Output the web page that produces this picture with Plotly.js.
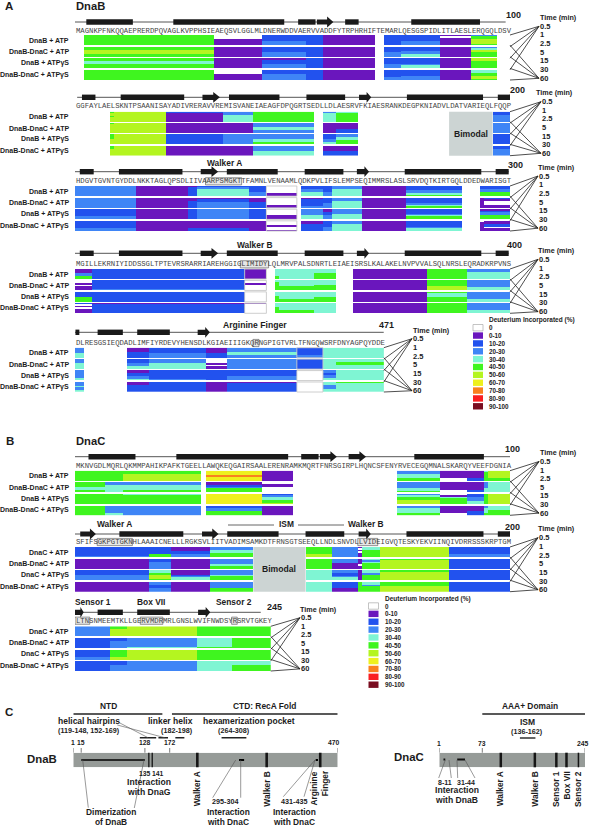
<!DOCTYPE html>
<html><head><meta charset="utf-8">
<script src="https://cdn.plot.ly/plotly-3.0.1.min.js"></script>
<style>html,body{margin:0;padding:0;background:#fff}#c{width:590px;height:827px}</style>
</head><body><div id="c"></div>
<script>
// ---------- data ----------
const timeLabels = ["0.5","1","2.5","5","15","30","60"];
const condA = ["DnaB + ATP","DnaB-DnaC + ATP","DnaB + ATPγS","DnaB-DnaC + ATPγS"];
const condB = ["DnaC + ATP","DnaB-DnaC + ATP","DnaC + ATPγS","DnaB-DnaC + ATPγS"];
const legendLabels = ["0","0-10","10-20","20-30","30-40","40-50","50-60","60-70","70-80","80-90","90-100"];
const legendColors = ["#ffffff","#6a16bd","#2252ee","#3f85f6","#7ff5d3","#3ff51f","#b4f520","#eef01e","#f9801f","#f91f22","#7a0d20"];

const seqA1 = "MAGNKPFNKQQAEPRERDPQVAGLKVPPHSIEAEQSVLGGLMLDNERWDDVAERVVADDFYTRPHRHIFTEMARLQESGSPIDLITLAESLERQGQLDSV";
const seqA2 = "GGFAYLAELSKNTPSAANISAYADIVRERAVVREMISVANEIAEAGFDPQGRTSEDLLDLAESRVFKIAESRANKDEGPKNIADVLDATVARIEQLFQQP";
const seqA3 = "HDGVTGVNTGYDDLNKKTAGLQPSDLIIVAARPSMGKTTFAMNLVENAAMLQDKPVLIFSLEMPSEQIMMRSLASLSRVDQTKIRTGQLDDEDWARISGT";
const seqA4 = "MGILLEKRNIYIDDSSGLTPTEVRSRARRIAREHGGIGLIMIDYLQLMRVPALSDNRTLEIAEISRSLKALAKELNVPVVALSQLNRSLEQRADKRPVNS";
const seqA5 = "DLRESGSIEQDADLIMFIYRDEVYHENSDLKGIAEIIIGKQRNGPIGTVRLTFNGQWSRFDNYAGPQYDDE";
const seqB1 = "MKNVGDLMQRLQKMMPAHIKPAFKTGEELLAWQKEQGAIRSAALERENRAMKMQRTFNRSGIRPLHQNCSFENYRVECEGQMNALSKARQYVEEFDGNIA";
const seqB2 = "SFIFSGKPGTGKNHLAAAICNELLLRGKSVLIITVADIMSAMKDTFRNSGTSEEQLLNDLSNVDLLVIDEIGVQTESKYEKVIINQIVDRRSSSKRPTGM";
const seqB3 = "LTNSNMEEMTKLLGERVMDRMRLGNSLWVIFNWDSYRSRVTGKEY";

// residue ranges (within each 100-residue line) and one 7-time-point bin code per condition
// bin codes: 0 = 0%, 1 = 0-10, 2 = 10-20, 3 = 20-30, 4 = 30-40, 5 = 40-50, 6 = 50-60, 7 = 60-70, 8 = 70-80
const segsA1 = [[2,32],[32,43],[43,53],[53,57],[57,69],[71,75],[75,84],[84,91],[91,97]];
const rowsA1 = [
 ["5555555","0001111","2222333","2222222","1111111","2222222","2222333","1011111","3556665"],
 ["5566655","1111111","2222333","2222222","1111111","2222333","2223344","1111111","3466555"],
 ["5544555","1111111","1222333","2222222","1111111","2222333","2222344","1111111","6655555"],
 ["5555555","0001111","2223333","2222222","1111111","2222233","2222333","1111111","4455665"]];
const segsA2 = [[8,9],[9,21],[21,34],[34,41],[41,55],[57,60],[60,65],[96,100]];
const rowsA2 = [
 ["5665666","6666666","2111111","3344444","5555555","3444444","4555555","2233333"],
 ["5666666","6666666","1111111","1111111","3334433","1111111","1111222","3333333"],
 ["5556666","6666666","2222222","3333333","3334455","2223344","3344555","2222222"],
 ["5566666","6666666","1111111","1111111","3333444","1111222","1111222","2233333"]];
const segsA3 = [[0,14],[14,26],[26,28],[28,40],[40,44],[44,51],[52,57],[57,59],[59,66],[66,76],[76,89],[93,94],[94,100]];
const rowsA3 = [
 ["3333333","1111111","1222222","2344444","2222333","0000011","2233444","2222333","3344444","1111111","2223345","2233555","2233555"],
 ["3333333","1111111","1122222","1223333","1112222","0000011","1222223","2222333","3344444","1111111","2222345","1111111","2100011"],
 ["2222233","1111111","2222222","3333333","2222222","0000111","3333444","1122333","3334444","1111111","2223455","1233555","1233555"],
 ["2222233","1111111","1111122","1111122","1111111","0001001","1122222","2222333","3344444","1111111","2222344","0111111","1122011"]];
const segsA4 = [[0,4],[4,39],[39,44],[46,47],[47,55],[55,60],[64,81],[81,90],[90,100]];
const rowsA4 = [
 ["1113355","2222222","1111111","4444455","4444444","4445555","1111111","5555555","3344444"],
 ["0010111","2222223","0010000","4555555","4444555","4445555","1111111","5555666","3333344"],
 ["2222555","2222222","0000000","4445555","4444455","4444555","1111111","5444555","3333344"],
 ["2010111","1222222","1000000","4445555","4444455","4444444","1111111","5555555","3333344"]];
const segsA5 = [[0,2],[12,17],[17,30],[30,35],[35,51],[51,57],[57,60],[60,71]];
const rowsA5 = [
 ["3333444","1112222","2222333","1111222","3334433","2222233","4444444","4444444"],
 ["3334444","2223344","3334444","0001011","3333333","2222222","4444444","4455444"],
 ["3333344","1122334","2222223","2222222","2222333","0000000","3323344","4444444"],
 ["3334334","1122222","2222222","1111111","1222222","0000000","4433344","5444444"]];
const segsB1 = [[0,7],[7,11],[11,29],[30,43],[43,50],[74,84],[84,90],[90,94],[94,95],[95,100]];
const rowsB1 = [
 ["5555555","5555555","5566666","7778777","1111111","3344455","1111100","1111122","4555555","6666655"],
 ["5554455","3344444","3344455","1123555","0110000","3333445","1111100","1111122","3333444","4444444"],
 ["5555555","5555555","4555555","7777777","2344556","3455666","0145555","2233344","5555555","6666666"],
 ["5555555","3333344","3333333","2233555","1111111","3344455","1111100","1111222","3344455","4445555"]];
const segsB2 = [[0,17],[17,22],[22,31],[31,41],[53,59],[59,65],[65,66],[66,70],[70,86],[86,100]];
const rowsB2 = [
 ["2222223","2222255","1112233","3344555","5555566","3333333","1010111","4455555","6666666","2222233"],
 ["1111111","2233333","1111111","3333455","5555555","3331111","1111011","4345555","5666666","2222222"],
 ["2223333","4456665","1112344","3334555","4444444","3322344","1111111","4435555","5666666","2222222"],
 ["1111111","3322333","1111111","3333555","4444444","2222111","5555555","4435555","5556666","2222222"]];
const segsB3 = [[0,8],[8,12],[12,28],[28,36],[36,45]];
const rowsB3 = [
 ["3333333","5566666","6666666","5555555","5555555"],
 ["2222222","2233333","3333334","4444445","5555555"],
 ["2222233","5555566","6666666","5555555","5555555"],
 ["2222222","2223333","3333333","4444444","4445555"]];

// secondary structure, in residues along each line
const helixA1=[[2.6,13.3],[22.6,48.1],[51.3,55.3],[62.1,65.2],[77.3,93.1]], strandA1=[[55.6,59.4]];
const helixA2=[[1.6,4.7],[10.5,25.1],[35.4,47],[53.2,62.1],[76.3,93.8],[97.2,100.2]], strandA2=[[29.3,33.3],[65.3,68.1]];
const helixA3=[[1.1,4.3],[10.1,24.7],[34.9,46.6],[52.8,61.7],[75.8,93.4],[96.7,99.7]], strandA3=[[28.9,32.9],[64.8,67.6]];
const helixA4=[[1.1,4.3],[10.1,24.7],[34.9,46.6],[52.8,61.7],[75.8,93.4],[96.7,99.7]], strandA4=[[28.9,32.9],[64.8,67.6]];
const helixA5=[[0.1,1],[5.2,11],[14.3,21.8]], strandA5=[[28.2,31]];
const helixB1=[[3.1,13.9],[23.3,49],[52,56],[78,94]], strandB1=[[56.3,60.2],[62.9,66.9]];
const helixB2=[[10.2,24.9],[35,46.8],[53,61.9],[76.2,93.9],[97.2,100.2]], strandB2=[[1.2,4.8],[29.2,33],[65.2,68]];
const helixB3=[[5.2,11],[14.3,21.8]], strandB3=[[0,2],[28.3,31.1]];

// domain map residues
const dnabLength = 470, dnacLength = 245;
const dnabMotifs = [221,344,439], dnabDnaG = [135,141], dnacMotifs = [104,161,197,214,234];
const dnabTicks = [1,15,128,172,470], dnacTicks = [1,73,245];
const dnabDomains = [[1,159],[176,470]], dnacDomains = [[73,245]];
const dnabPockets = [[119,148],[152,169],[182,198],[264,308]], dnacPockets = [[136,162]];
const dnabSites = [[15,128],[295,304],[431,435]], dnacSites = [[8,11],[31,44]];

// ---------- page geometry ----------
const W=590,H=827, unit=4.35, seqLeft=75;
const panels = [
 {seq:seqA1,segs:segsA1,rows:rowsA1,hel:helixA1,str:strandA1,cond:condA,n:100,top:35,bot:80,track:22,seqY:31,tx:539,ty:26.3,st:8.67,title:[558,17.7],num:["100",513,15],line:[-0.3,99],
  boxes:[],out:[],bim:null},
 {seq:seqA2,segs:segsA2,rows:rowsA2,hel:helixA2,str:strandA2,cond:condA,n:100,top:111.7,bot:155.7,track:97.3,seqY:106,tx:541,ty:101.7,st:8.6,title:[554,92.7],num:["200",517,90],line:[0.5,100.2],
  boxes:[],out:[],bim:[86,96]},
 {seq:seqA3,segs:segsA3,rows:rowsA3,hel:helixA3,str:strandA3,cond:condA,n:100,top:186,bot:231,track:171.7,seqY:181.3,tx:538,ty:176,st:8.7,title:[556,167.3],num:["300",515,164.7],line:[0,99.7],
  boxes:[[30,38.3]],out:[[44,51]],bim:null},
 {seq:seqA4,segs:segsA4,rows:rowsA4,hel:helixA4,str:strandA4,cond:condA,n:100,top:269,bot:313.3,track:253.3,seqY:264.3,tx:538,ty:259.3,st:8.73,title:[556,250.7],num:["400",514,245],line:[0,99.7],
  boxes:[[38,44.5]],out:[[39,44]],bim:null},
 {seq:seqA5,segs:segsA5,rows:rowsA5,hel:helixA5,str:strandA5,cond:condA,n:71,top:347.7,bot:392,track:332.3,seqY:343,tx:412,ty:338.7,st:8.67,title:[431,330],num:["471",386,325],line:[0,71],
  boxes:[[40.9,42.3]],out:[[51,57]],bim:null},
 {seq:seqB1,segs:segsB1,rows:rowsB1,hel:helixB1,str:strandB1,cond:condA,n:100,top:470.7,bot:515.3,track:456.7,seqY:466.3,tx:539,ty:461.5,st:8.6,title:[558,452.7],num:["100",512,449.3],line:[0,100],
  boxes:[],out:[],bim:null},
 {seq:seqB2,segs:segsB2,rows:rowsB2,hel:helixB2,str:strandB2,cond:condB,n:100,top:547,bot:591.7,track:534,seqY:542,tx:538,ty:537.7,st:8.67,title:[556,528.7],num:["200",512,526.7],line:[-0.2,100.2],
  boxes:[[5.1,13.2],[65,69.6]],out:[],bim:[41,53]},
 {seq:seqB3,segs:segsB3,rows:rowsB3,hel:helixB3,str:strandB3,cond:condB,n:45,top:626.3,bot:671,track:612.3,seqY:620.7,tx:300,ty:617.7,st:8.53,title:[318,609.3],num:["245",274,606.7],line:[0,42.7],
  boxes:[[0,3.4],[15,20.2],[36,37.3]],out:[],bim:null}
];

const px = x => x/W, py = y => 1-y/H;
const traces=[], shapes=[], annos=[], layout={};
const TXT="#1c1c1c";
function label(t,x,y,size,anchor,opt){
  opt=opt||{};
  annos.push(Object.assign({text:opt.plain?t:"<b>"+t+"</b>",x:px(x),y:py(y),xref:"paper",yref:"paper",showarrow:false,
    xanchor:anchor||"center",yanchor:"middle",borderpad:0,
    font:{family:opt.family||"Liberation Sans",size:size,color:opt.color||TXT}},opt.angle?{textangle:opt.angle}:{}));
}
function seg(x1,y1,x2,y2,color,w,xref){
  shapes.push({type:"line",xref:xref||"paper",yref:"paper",x0:xref?x1:px(x1),x1:xref?x2:px(x2),y0:py(y1),y1:py(y2),
    line:{color:color,width:w}});
}
function box(x1,y1,x2,y2,fill,lineColor,lw,xref){
  shapes.push({type:"rect",xref:xref||"paper",yref:"paper",x0:xref?x1:px(x1),x1:xref?x2:px(x2),y0:py(y1),y1:py(y2),
    fillcolor:fill,line:{color:lineColor||fill,width:lw||0}});
}

const steps=[];
legendColors.forEach((c,i)=>{steps.push([i/11,c]);steps.push([(i+1)/11,c]);});

panels.forEach((p,k)=>{
  const id=k+1, ax=id===1?"":String(id);
  const left=seqLeft, right=seqLeft+p.n*unit;
  layout["xaxis"+ax]={domain:[px(left),px(right)],range:[0,p.n],visible:false,anchor:"y"+ax,fixedrange:true};
  layout["yaxis"+ax]={domain:[py(p.bot),py(p.top)],range:[30.5,-0.5],visible:false,anchor:"x"+ax,fixedrange:true};
  const xr="x"+ax;
  // heat map
  const z=[];
  for(let r=0;r<31;r++) z.push(new Array(p.n).fill(null));
  p.rows.forEach((row,c)=>{
    row.forEach((codes,s)=>{
      const a=p.segs[s][0],b=p.segs[s][1];
      for(let t=0;t<7;t++) for(let i=a;i<b;i++) z[c*8+t][i]=parseInt(codes[t],16);
    });
  });
  traces.push({type:"heatmap",z:z,x0:0.5,dx:1,y0:0,dy:1,xaxis:xr,yaxis:"y"+ax,zmin:0,zmax:11,
    colorscale:steps,showscale:false,hoverinfo:"skip",xgap:0,ygap:0});
  // grey outline of undeuterated blocks
  p.out.forEach(o=>{
    for(let c=0;c<4;c++){
      const h=(p.bot-p.top)/31;
      box(o[0],p.top+c*8*h,o[1],p.top+(c*8+7)*h,"rgba(0,0,0,0)","#c8c8c8",0.9,xr);
    }
  });
  // bimodal block
  if(p.bim){
    box(p.bim[0],p.top,p.bim[1],p.bot,"#ccd4d3",null,0,xr);
    label("Bimodal",left+(p.bim[0]+p.bim[1])/2*unit,(p.top+p.bot)/2,8.6);
  }
  // secondary structure
  seg(p.line[0],p.track,p.line[1],p.track,"#555",1,xr);
  p.hel.forEach(h=>box(h[0],p.track-2.7,h[1],p.track+2.7,"#1a1a1a",null,0,xr));
  p.str.forEach(s=>{
    const neck=s[1]-(s[1]-s[0])*0.38;
    const u=py(p.track-2.6),d=py(p.track+2.6),U=py(p.track-5.4),D=py(p.track+5.4),m=py(p.track);
    shapes.push({type:"path",xref:xr,yref:"paper",fillcolor:"#1a1a1a",line:{width:0},
      path:`M${s[0]},${u} L${neck},${u} L${neck},${U} L${s[1]},${m} L${neck},${D} L${neck},${d} L${s[0]},${d} Z`});
  });
  // sequence
  label(p.seq,left,p.seqY,7.25,"left",{plain:true,family:"Liberation Mono",color:"#444"});
  p.boxes.forEach(b=>box(b[0],p.seqY-3.6,b[1],p.seqY+3.6,"rgba(120,120,120,0.18)","#555",0.6,xr));
  // condition labels
  p.cond.forEach((c,i)=>label(c,70,p.top+(p.bot-p.top)*(i*8+3.5)/31,7,"right"));
  // time labels and fan
  label("Time (min)",p.title[0],p.title[1],7.2);
  timeLabels.forEach((t,i)=>label(t,p.tx,p.ty+i*p.st,7.5,"left"));
  const h=(p.bot-p.top)/31, yA=p.ty, yB=p.ty+6*p.st;
  for(let c=0;c<4;c++){
    seg(right,p.top+c*8*h,p.tx,yA,"#222",0.8);
    seg(right,p.top+(c*8+7)*h,p.tx,yB,"#222",0.8);
  }
  label(p.num[0],p.num[1],p.num[2],9,"center");
});

// panel headers and motif names
label("A",9,5.5,11.5); label("DnaB",90,5.5,11.2);
label("B",10,441,11.5); label("DnaC",90,441,11.2);
label("Walker A",224,162.7,8.4); label("Walker B",255,245.3,8.4); label("Arginine Finger",255,324.7,8.6);
label("Walker A",114.7,524,8.4); label("Walker B",366,524,8.4); label("ISM",286,524,8.4);
seg(228,525,274,525,"#555",0.9); seg(298,525,344,525,"#555",0.9);
label("Sensor 1",92.5,602,8.4); label("Box VII",151,602,8.4); label("Sensor 2",234,602,8.4);

// legends
function legend(tx,ty,sx,sy,step){
  label("Deuterium Incorporated (%)",tx,ty,6.5,"left");
  legendLabels.forEach((l,i)=>{
    box(sx,sy+i*step-3.2,sx+10,sy+i*step+3.2,legendColors[i],i===0?"#aaa":legendColors[i],i===0?0.7:0);
    label(l,tx,sy+i*step,6.3,"left");
  });
}
legend(488,320,473,327.7,7.86);
legend(384,598.7,368.5,606,7.87);

// ---------- panel C ----------
const mapTop=752.7, mapBot=767.3;
const xb=[73.3,337.7], xc=[439.3,585];
layout.xaxis9={domain:[px(xb[0]),px(xb[1])],range:[1,dnabLength],visible:false,anchor:"y9",fixedrange:true};
layout.yaxis9={domain:[py(mapBot),py(mapTop)],range:[-0.5,0.5],visible:false,anchor:"x9",fixedrange:true};
layout.xaxis10={domain:[px(xc[0]),px(xc[1])],range:[1,dnacLength],visible:false,anchor:"y10",fixedrange:true};
layout.yaxis10={domain:[py(mapBot),py(mapTop)],range:[-0.5,0.5],visible:false,anchor:"x10",fixedrange:true};
traces.push({type:"bar",orientation:"h",y:[0],x:[dnabLength-1],base:[1],width:[1],xaxis:"x9",yaxis:"y9",marker:{color:"#969b98",line:{width:0}},hoverinfo:"skip"});
traces.push({type:"bar",orientation:"h",y:[0],x:[dnacLength-1],base:[1],width:[1],xaxis:"x10",yaxis:"y10",marker:{color:"#969b98",line:{width:0}},hoverinfo:"skip"});

const bx=r=>xb[0]+(r-1)*(xb[1]-xb[0])/(dnabLength-1), cx=r=>xc[0]+(r-1)*(xc[1]-xc[0])/(dnacLength-1);
dnabMotifs.forEach(r=>seg(r,mapTop,r,mapBot,"#151515",2.6,"x9"));
dnabDnaG.forEach(r=>seg(r,mapTop,r,mapBot,"#151515",1.3,"x9"));
dnacMotifs.forEach((r,i)=>seg(r,mapTop,r,mapBot,"#151515",i===4?1.5:2.5,"x10"));
dnabSites.forEach((s,i)=>seg(s[0],760,s[1],760,"#000",i===0?1.4:2,"x9"));
dnacSites.forEach(s=>seg(s[0],759.5,s[1],759.5,"#111",1.8,"x10"));
dnabDomains.forEach(s=>seg(s[0],714,s[1],714,"#222",1.3,"x9"));
dnacDomains.forEach(s=>seg(s[0],714,s[1],714,"#222",1.3,"x10"));
dnabPockets.forEach(s=>seg(s[0],737.8,s[1],737.8,"#222",1.4,"x9"));
dnacPockets.forEach(s=>seg(s[0],738,s[1],738,"#222",1.4,"x10"));
dnabTicks.forEach(r=>{seg(r,748,r,mapTop,"#444",0.7,"x9"); label(String(r),r===470?bx(r)-4:bx(r),742.9,6.8);});
dnacTicks.forEach(r=>{seg(r,748,r,mapTop,"#444",0.7,"x10"); label(String(r),r===245?cx(r)-2:cx(r),743.2,6.8);});

// callouts
const callouts=[[82.7,760,88.3,807.7],[144,760,134.3,808],[235.7,760,212.7,797.7],[240.7,760,240.7,797.7],
  [315,760,283.3,796.7],[315,760,304,796.7],[119.3,722.7,148,737.7],[117.3,725,164.7,737.7],
  [445.3,760,438.7,778],[449,760,451.3,778],[457,760,457.7,778],[465,760,475,778]];
callouts.forEach(c=>seg(c[0],c[1],c[2],c[3],"#555",0.6));

label("C",9,712,11.5);
label("DnaB",42.3,759,11.4); label("DnaC",409.3,756.5,11.4);
label("NTD",108.7,706,8.4); label("CTD: RecA Fold",264,706,8.4); label("AAA+ Domain",530,706,8.4);
label("helical hairpins",88.7,721.3,8.5); label("(119-148, 152-169)",88.7,730.7,7.2);
label("linker helix",170,721.3,8.5); label("(182-198)",176.7,730.7,7.2);
label("hexamerization pocket",248.7,721.3,8.5); label("(264-308)",234,730.7,7.2);
label("ISM",527,721.7,8.5); label("(136-162)",527,731.7,7.2);
label("135",145,773,6.8); label("141",158,773,6.8);
label("Interaction",149.3,781.7,8.6); label("with DnaG",149.3,792,8.6);
label("295-304",224.7,801,7.2); label("431-435",294,801,7.2);
label("Interaction",228,812,8.4); label("with DnaC",228,821.5,8.4);
label("Interaction",294,812,8.4); label("with DnaC",294,821.5,8.4);
label("Dimerization",111,812,8.4); label("of DnaB",111,821.5,8.4);
label("8-11",444.7,782,7); label("31-44",465.7,782,7);
label("Interaction",456.7,790,8.6); label("with DnaB",456.7,800,8.6);
const rot={angle:-90};
label("Walker A",197.3,789,8.4,"center",rot); label("Walker B",266.7,789,8.4,"center",rot);
label("Arginine",314.3,788.3,8.4,"center",rot); label("Finger",325.3,783,8.4,"center",rot);
label("Walker A",500.3,789,8.4,"center",rot); label("Walker B",534.7,789,8.4,"center",rot);
label("Sensor 1",556,789,8.4,"center",rot); label("Box VII",566,785.5,8.4,"center",rot); label("Sensor 2",578,789,8.4,"center",rot);

Object.assign(layout,{width:W,height:H,margin:{l:0,r:0,t:0,b:0},paper_bgcolor:"#fff",plot_bgcolor:"rgba(0,0,0,0)",
  showlegend:false,shapes:shapes,annotations:annos,hovermode:false});
Plotly.newPlot("c",traces,layout,{displayModeBar:false,staticPlot:true});
</script>
</body></html>
